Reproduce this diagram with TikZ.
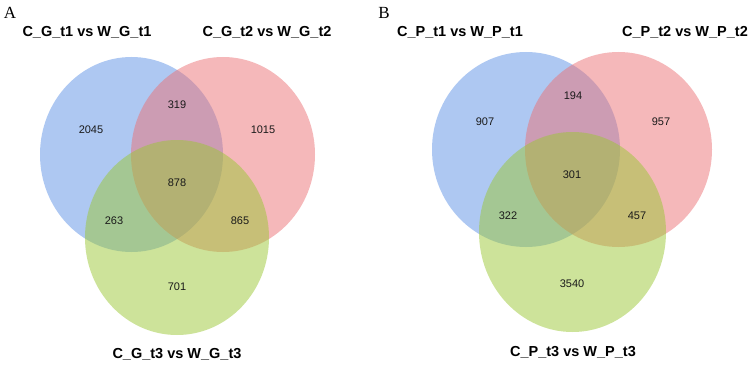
\documentclass[tikz,border=0pt]{standalone}
\usepackage{fontspec}
\setmainfont{Liberation Sans}
\newfontfamily\serifpanel{Liberation Serif}
\definecolor{vblue}{HTML}{5D91E5}
\definecolor{vred}{HTML}{EB7175}
\definecolor{vgreen}{HTML}{9BC735}
\definecolor{numtext}{HTML}{1A1A1A}
\begin{document}
\begin{tikzpicture}[x=1pt,y=-1pt,
  setfill/.style={fill=#1,fill opacity=0.5,draw=none},
  settitle/.style={font=\fontsize{14.5}{16}\selectfont\bfseries,text=black,inner sep=0pt},
  setnum/.style={font=\fontsize{11}{13}\selectfont,text=numtext,inner sep=0pt},
  panellabel/.style={font=\serifpanel\fontsize{17}{19}\selectfont,text=black,inner sep=0pt}]
\useasboundingbox (0,0) rectangle (750,369);
% Panel A
\fill[setfill=vblue] (131.5,154.5) ellipse [x radius=91.5, y radius=97.5];
\fill[setfill=vred] (223,154.5) ellipse [x radius=92, y radius=97.5];
\fill[setfill=vgreen] (177,237.5) ellipse [x radius=92, y radius=97.5];
\node[panellabel] (labA) at (10,13) {A};
\node[settitle] (tA1) at (87,32) {C\_G\_t1 vs W\_G\_t1};
\node[settitle] (tA2) at (267,32) {C\_G\_t2 vs W\_G\_t2};
\node[settitle] (tA3) at (177,354) {C\_G\_t3 vs W\_G\_t3};
\node[setnum] (a1) at (91,130) {2045};
\node[setnum] (a2) at (177,105) {319};
\node[setnum] (a3) at (263,130) {1015};
\node[setnum] (a4) at (177,183) {878};
\node[setnum] (a5) at (114,221) {263};
\node[setnum] (a6) at (240,221) {865};
\node[setnum] (a7) at (177,287) {701};
% Panel B
\fill[setfill=vblue] (526,149.5) ellipse [x radius=94, y radius=97.5];
\fill[setfill=vred] (618.5,149.5) ellipse [x radius=93.5, y radius=97.5];
\fill[setfill=vgreen] (572.5,232) ellipse [x radius=93.5, y radius=100];
\node[panellabel] (labB) at (384,13) {B};
\node[settitle] (tB1) at (460,32) {C\_P\_t1 vs W\_P\_t1};
\node[settitle] (tB2) at (685,32) {C\_P\_t2 vs W\_P\_t2};
\node[settitle] (tB3) at (573,352) {C\_P\_t3 vs W\_P\_t3};
\node[setnum] (b1) at (485,122) {907};
\node[setnum] (b2) at (573,96) {194};
\node[setnum] (b3) at (661,122) {957};
\node[setnum] (b4) at (572,175) {301};
\node[setnum] (b5) at (508,216) {322};
\node[setnum] (b6) at (637,216) {457};
\node[setnum] (b7) at (572,284) {3540};
\end{tikzpicture}
\end{document}
